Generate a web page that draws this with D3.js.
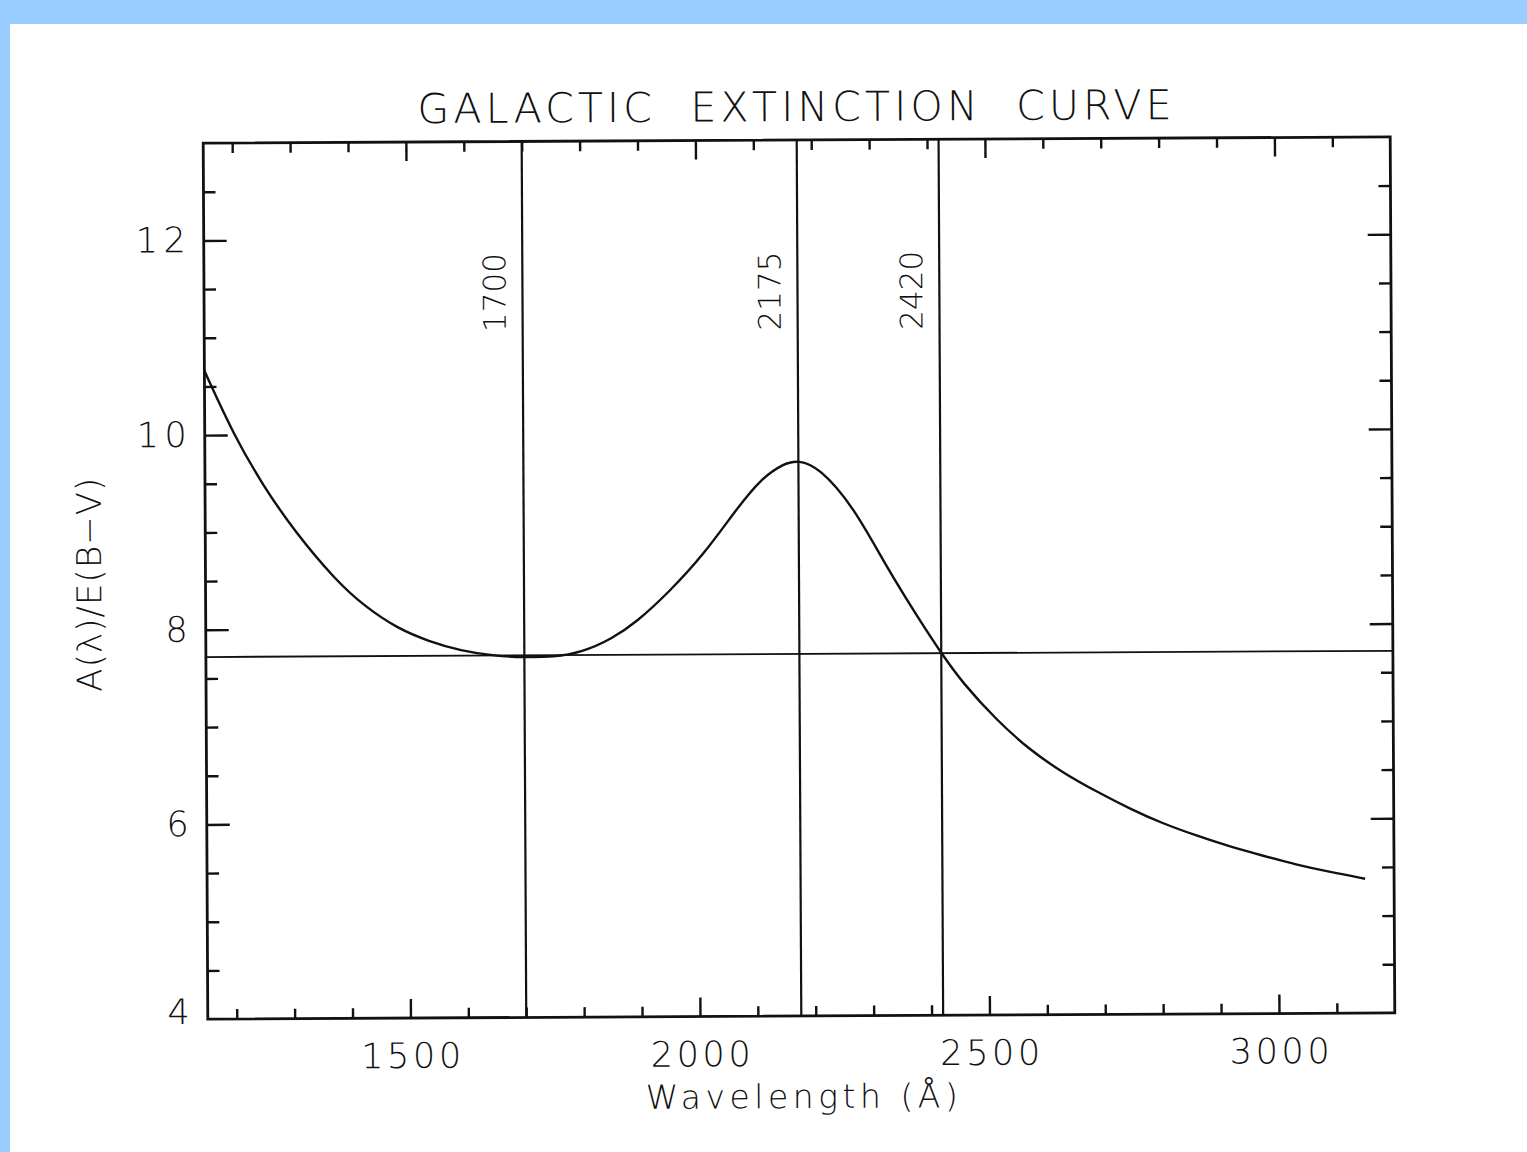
<!DOCTYPE html>
<html><head><meta charset="utf-8">
<script src="https://cdn.jsdelivr.net/npm/d3@7"></script>
<style>
html,body{margin:0;padding:0;background:#fff;}
svg{display:block;}
text{font-family:"DejaVu Sans",Roboto,sans-serif;font-weight:200;fill:#111;}
</style></head><body>
<svg id="chart" width="1527" height="1152"></svg>
<script>
// ---- data ----
const wavelengths = [1150,1200,1250,1305,1375,1425,1482,1535,1590,1650,1700,1750,1800,1850,1895,1950,2010,2070,2110,2150,2175,2210,2270,2325,2385,2420,2457,2515,2570,2630,2690,2745,2800,2860,2915,2975,3030,3090,3150];
const extinction  = [10.66,10.0,9.48,9.0,8.5,8.23,8.0,7.87,7.77,7.715,7.70,7.70,7.75,7.88,8.06,8.36,8.74,9.23,9.52,9.68,9.71,9.64,9.23,8.62,8.04,7.72,7.41,7.03,6.73,6.48,6.28,6.11,5.96,5.83,5.72,5.62,5.53,5.45,5.38];
const markerWavelengths = [1700, 2175, 2420];
const markerLabels = ["1700", "2175", "2420"];
const referenceLevel = 7.72;
const xMajorTicks = [1500, 2000, 2500, 3000];
const xMinorTicks = [1200,1300,1400,1600,1700,1800,1900,2100,2200,2300,2400,2600,2700,2800,2900,3100];
const yMajorTicks = [4, 6, 8, 10, 12];
const yMinorTicks = [4.5,5,5.5,6.5,7,7.5,8.5,9,9.5,10.5,11,11.5,12.5];
const titleText = "GALACTIC  EXTINCTION  CURVE";
const xLabelText = "Wavelength (Å)";
const yLabelText = "A(λ)/E(B−V)";

// ---- layout ----
const W = 1527, H = 1152;
const plot = {left: 205.5, right: 1392.5, top: 140, bottom: 1016};
const cx = (plot.left + plot.right) / 2, cy = (plot.top + plot.bottom) / 2;

const svg = d3.select("#chart");
svg.append("rect").attr("width", W).attr("height", H).attr("fill", "#99ccff");
svg.append("rect").attr("x", 10).attr("y", 24).attr("width", W - 10).attr("height", H - 24).attr("fill", "#ffffff");

const x = d3.scaleLinear().domain([1150, 3200]).range([plot.left, plot.right]);
const y = d3.scaleLinear().domain([4, 13]).range([plot.bottom, plot.top]);

const g = svg.append("g").attr("transform", `rotate(-0.3 ${cx} ${cy})`);
const ink = "#111";

// title
g.append("text").attr("x", cx - 2).attr("y", 121)
  .attr("text-anchor", "middle").attr("font-size", 41)
  .style("white-space", "pre")
  .attr("textLength", 754).attr("lengthAdjust", "spacing")
  .text(titleText);

function styleAxis(sel) {
  sel.select(".domain").remove();
  sel.selectAll(".tick line").attr("stroke", ink).attr("stroke-width", 2.4);
  sel.selectAll(".tick text").attr("fill", ink).attr("font-size", 35)
     .attr("font-family", null);
}

// bottom
const bMinor = g.append("g").attr("transform", `translate(0,${plot.bottom})`)
  .call(d3.axisBottom(x).tickValues(xMinorTicks).tickSize(-10).tickFormat(""));
styleAxis(bMinor);
const bMajor = g.append("g").attr("transform", `translate(0,${plot.bottom})`)
  .call(d3.axisBottom(x).tickValues(xMajorTicks).tickSize(-19).tickPadding(25).tickFormat(d3.format("d")));
styleAxis(bMajor);
bMajor.selectAll(".tick text").attr("textLength", 100).attr("lengthAdjust", "spacing");
// top
const tMinor = g.append("g").attr("transform", `translate(0,${plot.top})`)
  .call(d3.axisTop(x).tickValues(xMinorTicks).tickSize(-10).tickFormat(""));
styleAxis(tMinor);
const tMajor = g.append("g").attr("transform", `translate(0,${plot.top})`)
  .call(d3.axisTop(x).tickValues(xMajorTicks).tickSize(-19).tickFormat(""));
styleAxis(tMajor);
// left
const lMinor = g.append("g").attr("transform", `translate(${plot.left},0)`)
  .call(d3.axisLeft(y).tickValues(yMinorTicks).tickSize(-12).tickFormat(""));
styleAxis(lMinor);
const lMajor = g.append("g").attr("transform", `translate(${plot.left},0)`)
  .call(d3.axisLeft(y).tickValues(yMajorTicks).tickSize(-23).tickPadding(18).tickFormat(d3.format("d")));
styleAxis(lMajor);
lMajor.selectAll(".tick text").filter(d => d >= 10).attr("textLength", 50).attr("lengthAdjust", "spacing");
const tick4 = lMajor.selectAll(".tick").filter(d => d === 4);
tick4.select("line").remove();
tick4.select("text").attr("y", -7);
// right
const rMinor = g.append("g").attr("transform", `translate(${plot.right},0)`)
  .call(d3.axisRight(y).tickValues(yMinorTicks).tickSize(-12).tickFormat(""));
styleAxis(rMinor);
const rMajor = g.append("g").attr("transform", `translate(${plot.right},0)`)
  .call(d3.axisRight(y).tickValues(yMajorTicks.filter(d => d > 4)).tickSize(-23).tickFormat(""));
styleAxis(rMajor);

// frame
g.append("rect").attr("x", plot.left).attr("y", plot.top)
  .attr("width", plot.right - plot.left).attr("height", plot.bottom - plot.top)
  .attr("fill", "none").attr("stroke", ink).attr("stroke-width", 2.8);

// reference horizontal line
g.append("line").attr("x1", plot.left).attr("x2", plot.right)
  .attr("y1", y(referenceLevel)).attr("y2", y(referenceLevel))
  .attr("stroke", ink).attr("stroke-width", 1.8);

// vertical marker lines
g.selectAll(".marker").data(markerWavelengths).enter().append("line")
  .attr("x1", d => x(d)).attr("x2", d => x(d))
  .attr("y1", plot.top).attr("y2", plot.bottom)
  .attr("stroke", ink).attr("stroke-width", 2.2);

g.selectAll(".mlabel").data(markerWavelengths).enter().append("text")
  .attr("transform", d => `translate(${x(d) - 17},${y(11.45)}) rotate(-90)`)
  .attr("text-anchor", "middle").attr("font-size", 31)
  .attr("textLength", 79).attr("lengthAdjust", "spacing")
  .text((d, i) => markerLabels[i]);

// curve
const pts = wavelengths.map((w, i) => [w, extinction[i]]);
g.append("path").datum(pts)
  .attr("fill", "none").attr("stroke", ink).attr("stroke-width", 2.4)
  .attr("stroke-linejoin", "round")
  .attr("d", d3.line().x(d => x(d[0])).y(d => y(d[1])).curve(d3.curveBasis));

// axis labels
g.append("text").attr("x", cx).attr("y", 1108)
  .attr("text-anchor", "middle").attr("font-size", 33)
  .attr("textLength", 312).attr("lengthAdjust", "spacing")
  .style("white-space", "pre")
  .text(xLabelText);

g.append("text").attr("transform", `translate(101,${581}) rotate(-90)`)
  .attr("text-anchor", "middle").attr("font-size", 34)
  .attr("textLength", 214).attr("lengthAdjust", "spacing")
  .text(yLabelText);
</script>
</body></html>
